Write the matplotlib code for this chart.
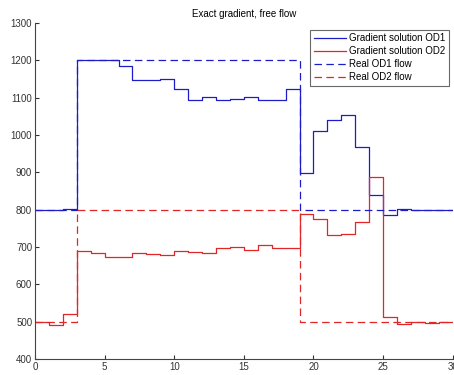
import numpy as np
import matplotlib
matplotlib.use('Agg')
import matplotlib.pyplot as plt

plt.rcParams['font.family'] = ['Liberation Sans', 'DejaVu Sans']

# cell edges 0..30, one value per unit cell
edges = np.arange(0, 31)

od1_gradient = [800, 798, 801, 1200, 1200, 1202, 1185, 1148, 1148, 1150,
                1124, 1094, 1102, 1095, 1097, 1101, 1095, 1094, 1124, 899,
                1010, 1041, 1054, 968, 840, 787, 802, 799, 800, 800]
od2_gradient = [500, 490, 521, 689, 683, 672, 672, 683, 680, 678,
                689, 687, 685, 697, 699, 693, 705, 696, 696, 788,
                774, 732, 736, 768, 887, 512, 494, 498, 496, 498]
od1_real = [800] * 3 + [1200] * 16 + [800] * 11
od2_real = [500] * 3 + [800] * 16 + [500] * 11

blue = '#1c1cc8'
red = '#e02626'

fig = plt.figure(figsize=(4.54, 3.75), dpi=100)
ax = fig.add_axes([35 / 454, 1 - 359 / 375, (452.7 - 35) / 454, (359 - 23) / 375])

def stepline(vals, **kw):
    ax.step(edges, list(vals) + [vals[-1]], where='post', **kw)

stepline(od1_gradient, color=blue, lw=0.9, label='Gradient solution OD1')
stepline(od2_gradient, color=red, lw=0.9, label='Gradient solution OD2')
stepline(od1_real, color=blue, lw=0.9, ls=(0, (6, 3.5)), label='Real OD1 flow')
stepline(od2_real, color=red, lw=0.9, ls=(0, (6, 3.5)), label='Real OD2 flow')

ax.set_xlim(0, 30)
ax.set_ylim(400, 1300)
ax.set_xticks(range(0, 31, 5))
ax.set_yticks(range(400, 1301, 100))
ax.tick_params(direction='in', length=3, labelsize=7, colors='#333333', pad=2)
ax.spines['top'].set_visible(False)
ax.spines['right'].set_visible(False)
for s in ('left', 'bottom'):
    ax.spines[s].set_color('#444444')
    ax.spines[s].set_linewidth(0.8)

ax.set_title('Exact gradient, free flow', fontsize=7, pad=4)
leg = ax.legend(loc='upper right', fontsize=7, frameon=True, fancybox=False,
                handlelength=3.3, handletextpad=0.3, borderpad=0.4,
                labelspacing=0.3, bbox_to_anchor=(1.003, 0.995))
leg.get_frame().set_edgecolor('#444444')
leg.get_frame().set_linewidth(0.8)

fig.savefig('out.png', dpi=100)
